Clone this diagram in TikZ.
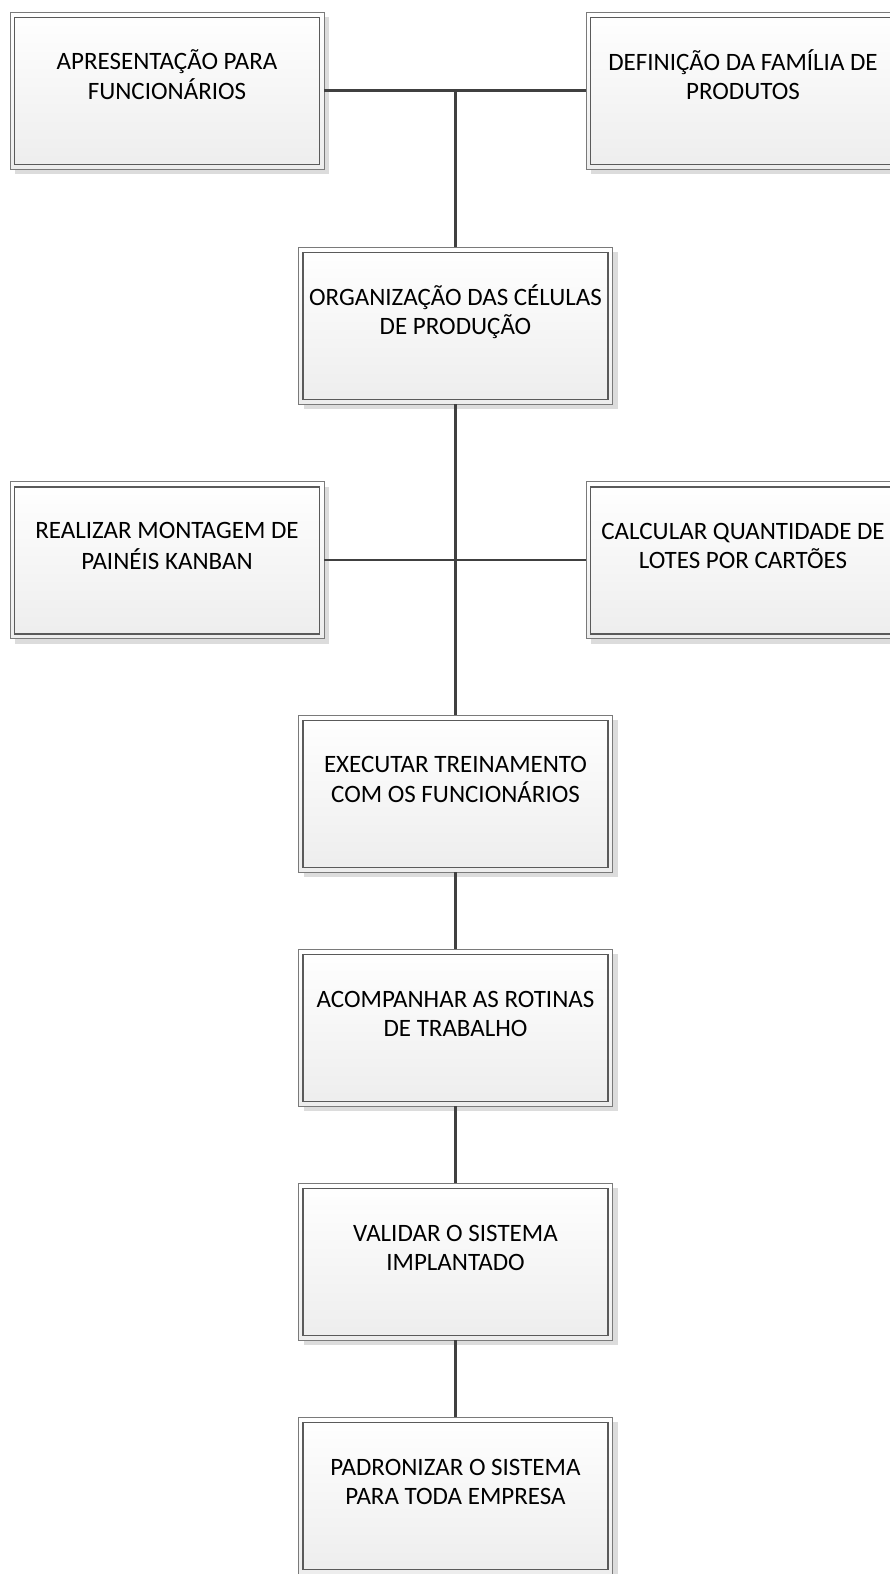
\documentclass[tikz,border=0pt]{standalone}
\usepackage{fontspec}
\setmainfont{Carlito}
\usetikzlibrary{shadows}
\definecolor{frameout}{HTML}{7A7A7A}
\definecolor{framein}{HTML}{5A5A5A}
\definecolor{fillbot}{HTML}{EDEDED}
\definecolor{shadowgray}{HTML}{DCDCDC}
\definecolor{linkgray}{HTML}{404040}
\tikzset{
  procbox/.style={rectangle, draw=frameout, line width=0.9pt,
    minimum width=314pt, minimum height=157pt, inner sep=0pt,
    top color=white, bottom color=fillbot,
    drop shadow={shadow xshift=5pt, shadow yshift=-5pt, fill=shadowgray, opacity=1}},
  boxtext/.style={align=center, font=\fontsize{25}{29}\selectfont, text=black},
  twolines/.style 2 args={label={[boxtext, yshift=11.8pt]center:{\strut #1\\\strut #2}}},
  innerframe/.style={draw=framein, line width=1.2pt},
  link/.style={draw=linkgray, line width=2.8pt}
}
\begin{document}
\begin{tikzpicture}[x=1pt, y=-1pt]
\useasboundingbox (0,0) rectangle (890,1574);

% process boxes
\node[procbox, twolines={APRESENTAÇÃO PARA}{FUNCIONÁRIOS}] (apres) at (167,90.5) {};
\node[procbox, twolines={DEFINIÇÃO DA FAMÍLIA DE}{PRODUTOS}] (defin) at (743,90.5) {};
\node[procbox, twolines={ORGANIZAÇÃO DAS CÉLULAS}{DE PRODUÇÃO}] (organ) at (455.5,325.5) {};
\node[procbox, twolines={REALIZAR MONTAGEM DE}{PAINÉIS KANBAN}] (realiz) at (167,560) {};
\node[procbox, twolines={CALCULAR QUANTIDADE DE}{LOTES POR CARTÕES}] (calc) at (743,560) {};
\node[procbox, twolines={EXECUTAR TREINAMENTO}{COM OS FUNCIONÁRIOS}] (exec) at (455.5,793.5) {};
\node[procbox, twolines={ACOMPANHAR AS ROTINAS}{DE TRABALHO}] (acomp) at (455.5,1027.5) {};
\node[procbox, twolines={VALIDAR O SISTEMA}{IMPLANTADO}] (valid) at (455.5,1261.5) {};
\node[procbox, twolines={PADRONIZAR O SISTEMA}{PARA TODA EMPRESA}] (padr) at (455.5,1495.5) {};

% inner frame of each box
\foreach \n in {apres,defin,organ,realiz,calc,exec,acomp,valid,padr}
  \draw[innerframe] ([shift={(5pt,-6pt)}]\n.north west) rectangle ([shift={(-5pt,5pt)}]\n.south east);

% junction points on the trunk
\coordinate (top) at (organ.north |- apres.east);
\coordinate (mid) at (organ.south |- realiz.east);

% connectors
\draw[link] (apres.east) -- (defin.west);
\draw[link] (top) -- (organ.north);
\draw[link] (realiz.east) -- (calc.west);
\draw[link] (organ.south) -- (exec.north);
\draw[link] (exec.south) -- (acomp.north);
\draw[link] (acomp.south) -- (valid.north);
\draw[link] (valid.south) -- (padr.north);
\end{tikzpicture}
\end{document}
